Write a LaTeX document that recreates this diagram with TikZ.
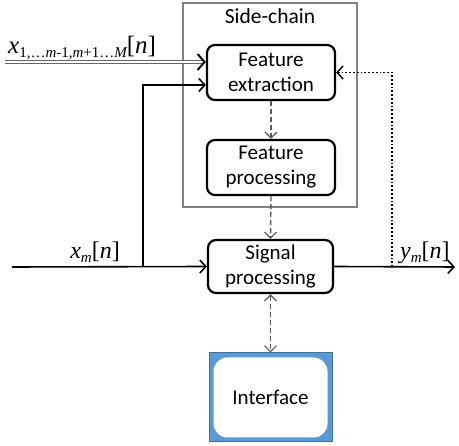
\documentclass[tikz,border=0pt]{standalone}
\usepackage{fontspec}
\setmainfont{Carlito}
\newfontfamily\tnr{Liberation Serif}
\usepackage{tikz}
\usetikzlibrary{calc,positioning,arrows.meta}
\definecolor{ifaceblue}{HTML}{5B9BD5}
\definecolor{ifaceedge}{HTML}{41719C}
\newcommand{\lowidx}[1]{\raisebox{-3.5pt}{\fontsize{15}{15}\selectfont #1}}
\begin{document}
\begin{tikzpicture}[x=1pt,y=-1pt,
      block/.style={draw, line width=2.2pt, rounded corners=8pt, minimum width=128pt, minimum height=55pt, align=center, inner sep=1pt, font=\fontsize{21}{25}\selectfont},
      sidebox/.style={draw=gray, line width=1.4pt, minimum width=174pt, minimum height=204pt},
      sig/.style={line width=1.6pt, -{Straight Barb[length=6pt,width=13pt,line width=1.6pt]}},
      ctrl/.style={line width=1.4pt, dashed, dash pattern=on 5pt off 3pt, gray!70!black, -{Straight Barb[length=6pt,width=12pt,line width=1.2pt]}},
      lbl/.style={font=\tnr\fontsize{24}{28}\selectfont, inner sep=1pt}]
    \useasboundingbox (0,0) rectangle (459,446);
    % side-chain
    \node (side) [sidebox] at (270,105) {};
    \node (sidelbl) [below=3pt of side.north, font=\fontsize{21.5}{25}\selectfont] {Side-chain};
    \node (fe) [block] at (271,72.5) {Feature\\extraction};
    \node (fp) [block] at (271,167.5) {Feature\\processing};
    % main path
    \node (sp) [block, minimum width=125pt, minimum height=53pt] at (270.5,266.5) {Signal\\processing};
    \node (iface) [draw=ifaceedge, fill=ifaceblue, line width=1pt, minimum width=123pt, minimum height=89pt] at (270.5,397.5) {};
    \node (ifacein) [fill=white, rounded corners=14pt, minimum width=114pt, minimum height=80pt, font=\fontsize{21}{25}\selectfont] at (iface.center) {Interface};
    \coordinate (xin) at (5,62);
    \coordinate (xm) at (12,267);
    \coordinate (br) at (143,267);
    \coordinate (yout) at (455,267);
    \coordinate (fb) at (392,267);
    % inputs
    \draw [double=white, draw=gray!80!black, line width=1.2pt, double distance=1.6pt, -{Straight Barb[length=7pt,width=16pt,line width=2pt,black]}] (xin) -- (xin -| fe.west);
    \node (xall) [lbl, anchor=base west, font=\tnr\fontsize{25}{28}\selectfont] at (7,54) {\itshape x\lowidx{\upshape 1,\ldots\itshape m\upshape -1,\itshape m\upshape +1\ldots\itshape M}\upshape [\itshape n\upshape ]};
    \draw [sig] (xm) -- (sp.west);
    \draw [sig] (br) |- ([yshift=-12.5pt]fe.west);
    \node (xmlbl) [lbl, anchor=base east] at (121,259) {\itshape x\lowidx{m}\upshape [\itshape n\upshape ]};
    % outputs
    \draw [sig] (sp.east) -- (yout);
    \node (ymlbl) [lbl, anchor=base west] at (399,259) {\itshape y\lowidx{m}\upshape [\itshape n\upshape ]};
    \draw [line width=1.8pt, dotted, -{Straight Barb[length=6pt,width=13pt,line width=1.4pt]}] (fb) |- (fe.east);
    % control
    \draw [ctrl] (fe.south) -- (fp.north);
    \draw [ctrl] (fp.south) -- (sp.north);
    \draw [ctrl, {Straight Barb[length=6pt,width=12pt,line width=1.2pt]}-{Straight Barb[length=6pt,width=12pt,line width=1.2pt]}] (sp.south) -- (iface.north);
\end{tikzpicture}
\end{document}
